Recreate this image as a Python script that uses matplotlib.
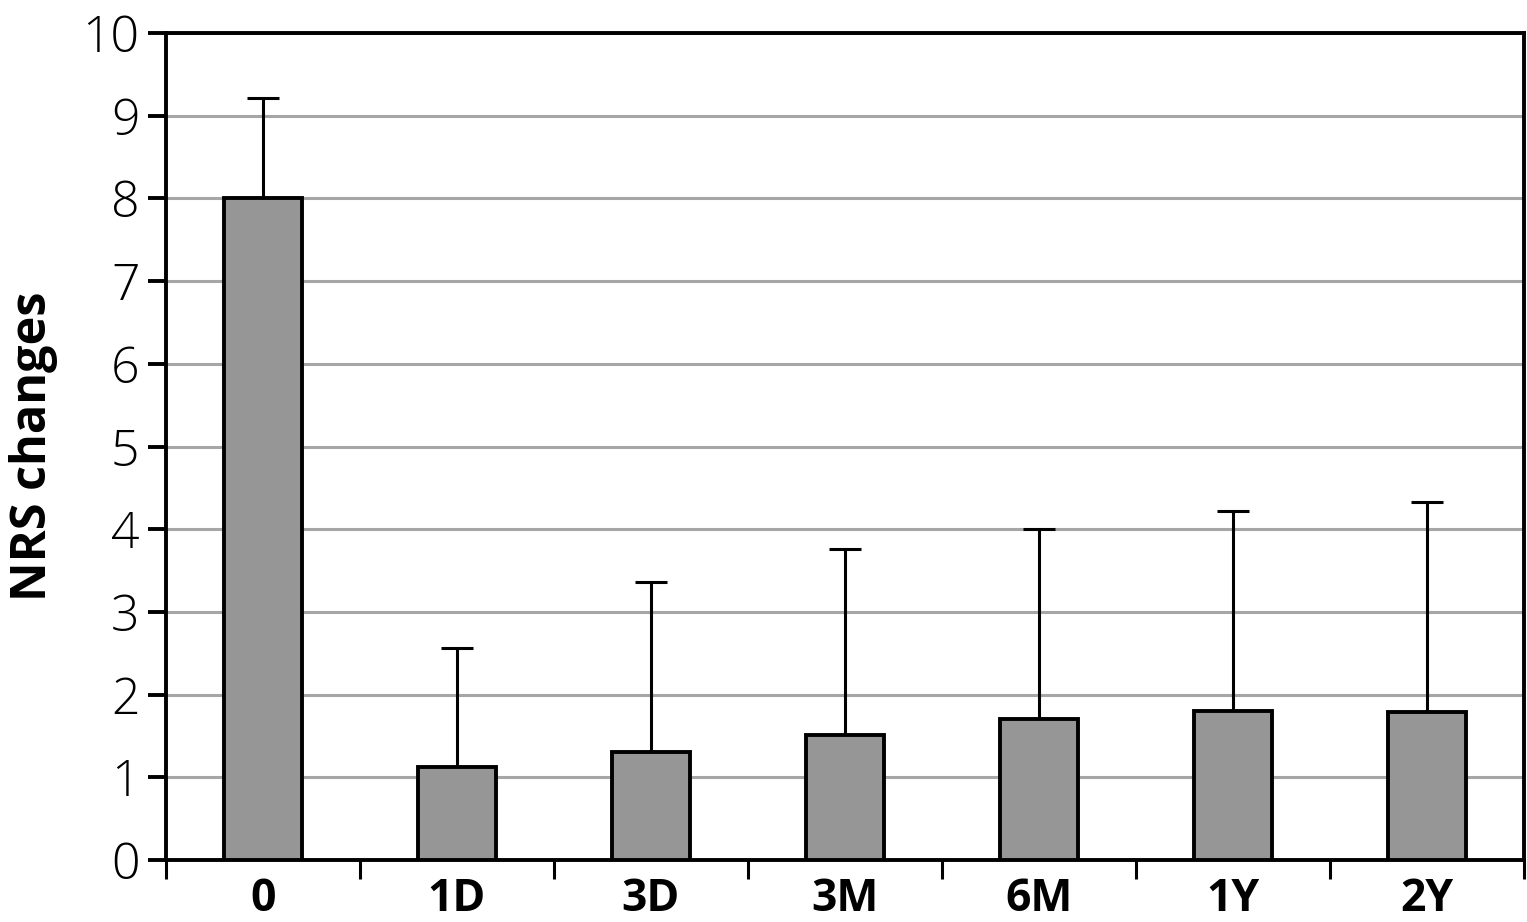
import matplotlib
matplotlib.use("Agg")
import matplotlib.pyplot as plt
import numpy as np

categories = ["0", "1D", "3D", "3M", "6M", "1Y", "2Y"]
means = [8.0, 1.12, 1.31, 1.51, 1.70, 1.80, 1.79]
sd_upper = [1.21, 1.44, 2.05, 2.25, 2.30, 2.42, 2.54]

plt.rcParams['font.family'] = ['Open Sans', 'DejaVu Sans']

fig = plt.figure(figsize=(15.27, 9.22), dpi=100)
ax = fig.add_axes([0.1087, 0.0672, 0.998 - 0.1087, 0.9642 - 0.0672])

x = np.arange(len(categories))
ax.set_axisbelow(True)
ax.yaxis.grid(True, color="#a6a6a6", linewidth=2.2)
ax.bar(x, means, width=0.40, color="#969696", edgecolor="black", linewidth=2.8, zorder=3)
ax.errorbar(x, means, yerr=[np.zeros(len(x)), sd_upper], fmt="none", ecolor="black",
            elinewidth=2.2, capsize=11.5, capthick=2.2, zorder=2)

ax.set_xlim(-0.5, len(categories) - 0.5)
ax.set_ylim(0, 10)
ax.set_yticks(range(0, 11))
ax.set_yticklabels([str(i) for i in range(0, 11)], fontsize=36, fontweight="light")
ax.tick_params(axis="y", direction="out", length=13, width=2.8, pad=6)

ax.set_xticks(np.arange(-0.5, len(categories)), labels=[""] * (len(categories) + 1))
ax.tick_params(axis="x", which="major", direction="out", length=14, width=2.2)
ax.set_xticks(x, minor=True)
ax.set_xticklabels(categories, minor=True, fontsize=32, fontweight="bold")
ax.tick_params(axis="x", which="minor", length=0, pad=12)

for s in ax.spines.values():
    s.set_linewidth(2.8)

ax.set_ylabel("NRS changes", fontsize=35, fontweight="bold", labelpad=18)

fig.savefig("out.png", dpi=100)
